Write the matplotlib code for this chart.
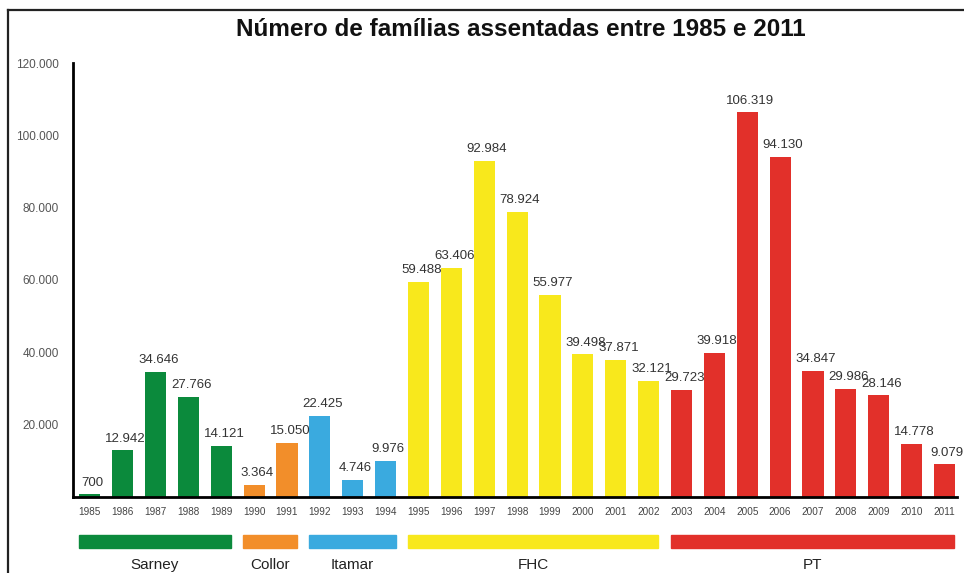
import matplotlib.pyplot as plt
from matplotlib.lines import Line2D
from matplotlib.transforms import blended_transform_factory

plt.rcParams['font.family'] = ['Liberation Sans', 'DejaVu Sans']

anos = list(range(1985, 2012))
familias = [700, 12942, 34646, 27766, 14121, 3364, 15050, 22425, 4746, 9976,
            59488, 63406, 92984, 78924, 55977, 39498, 37871, 32121,
            29723, 39918, 106319, 94130, 34847, 29986, 28146, 14778, 9079]

governos = ['Sarney', 'Collor', 'Itamar', 'FHC', 'PT']
inicio = [1985, 1990, 1992, 1995, 2003]
fim = [1989, 1991, 1994, 2002, 2011]
cores = ['#0b8a3c', '#f28e2a', '#3aaadf', '#f8e81c', '#e2302a']


def fmt(v):
    return '{:,}'.format(v).replace(',', '.')


def cor_ano(a):
    for c, i, f in zip(cores, inicio, fim):
        if i <= a <= f:
            return c


fig = plt.figure(figsize=(9.64, 5.73), dpi=100)
ax = fig.add_axes([73 / 964, 76 / 573, (957 - 73) / 964, (497 - 63) / 573])

x = list(range(len(anos)))
ax.bar(x, familias, width=0.64, color=[cor_ano(a) for a in anos], zorder=2)

for xi, v in zip(x, familias):
    ax.annotate(fmt(v), (xi, v), xytext=(2, 4), textcoords='offset points',
                ha='center', va='bottom', fontsize=9.5, color='#333333')

ax.set_xlim(-0.51, 26.38)
ax.set_ylim(0, 120000)
ax.set_yticks(range(20000, 120001, 20000))
ax.set_yticklabels([fmt(v) for v in range(20000, 120001, 20000)],
                   fontsize=8.5, color='#555555')
ax.set_xticks(x)
ax.set_xticklabels([str(a) for a in anos], fontsize=7.2, color='#444444')
ax.tick_params(axis='y', length=0, pad=10)
ax.tick_params(axis='x', length=0, pad=7)
for s in ['top', 'right']:
    ax.spines[s].set_visible(False)
ax.spines['left'].set_linewidth(2)
ax.spines['bottom'].set_linewidth(2)

# barras dos governos
tr = blended_transform_factory(ax.transData, fig.transFigure)
for g, i, f, c in zip(governos, inicio, fim, cores):
    a = i - 1985 - 0.33
    b = f - 1985 + 0.3
    ax.add_patch(plt.Rectangle((a, 25 / 573), b - a, 13 / 573, color=c,
                               transform=tr, clip_on=False))
    ax.text((a + b) / 2, 8 / 573, g, transform=tr, ha='center', va='center',
            fontsize=11, color='#222222')

fig.text(521 / 964, 1 - 30 / 573, 'Número de famílias assentadas entre 1985 e 2011',
         ha='center', va='center', fontsize=17.5, fontweight='bold', color='#111111')

# moldura
fig.add_artist(Line2D([8 / 964, 8 / 964], [0, 1 - 10 / 573], color='#222222',
                      lw=1.6, transform=fig.transFigure))
fig.add_artist(Line2D([8 / 964, 1], [1 - 10 / 573, 1 - 10 / 573], color='#222222',
                      lw=1.6, transform=fig.transFigure))

fig.savefig('out.png', dpi=100)
